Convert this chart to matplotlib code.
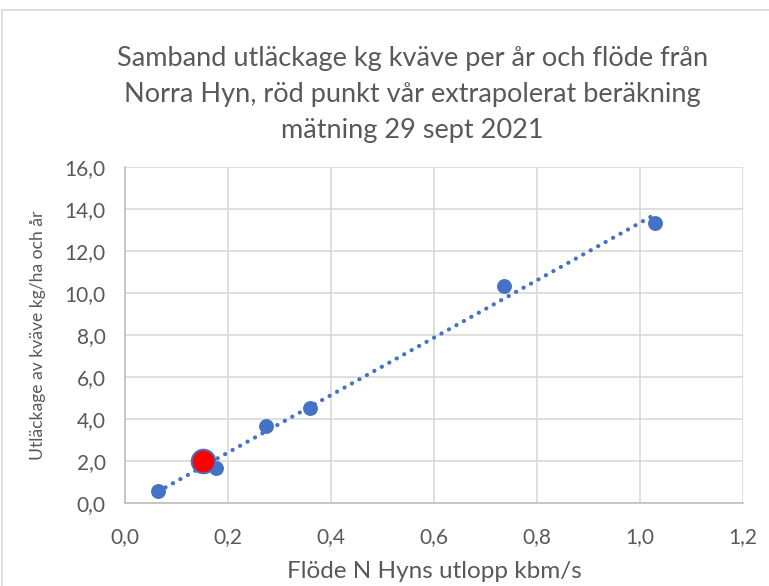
import numpy as np
import matplotlib.pyplot as plt
from matplotlib.patches import Rectangle

# data
flode = [0.064, 0.177, 0.274, 0.359, 0.736, 1.029]
utlackage = [0.57, 1.67, 3.67, 4.52, 10.33, 13.33]
rod_x = [0.151]
rod_y = [2.0]

plt.rcParams['font.family'] = ['Lato', 'DejaVu Sans']
grey = '#595959'
blue = '#4472C4'

fig = plt.figure(figsize=(7.69, 5.86), dpi=100)
ax = fig.add_axes([0.1625, 0.1416, 0.8035, 0.5734])

# chart frame
fig.patches.append(Rectangle((2 / 769, -0.01), 1.0, 1 - 10 / 586 + 0.01, transform=fig.transFigure,
                             fill=False, edgecolor='#d9d9d9', linewidth=1.2))

# linear trend line
k, m = np.polyfit(flode, utlackage, 1)
xs = np.array([min(flode), max(flode)])
ax.plot(xs, k * xs + m, linestyle=(0, (0.05, 2.0)), color=blue, linewidth=3.0,
        dash_capstyle='round', zorder=2)

ax.scatter(flode, utlackage, s=115, color=blue, zorder=3, linewidths=0)
ax.scatter(rod_x, rod_y, s=290, color='red', edgecolors=blue, linewidths=1.4, zorder=4)

ax.set_xlim(0, 1.2)
ax.set_ylim(0, 16)
ax.set_xticks(np.arange(0, 1.21, 0.2))
ax.set_yticks(np.arange(0, 16.1, 2))
ax.set_xticklabels([f'{v:.1f}'.replace('.', ',') for v in np.arange(0, 1.21, 0.2)])
ax.set_yticklabels([f'{v:.1f}'.replace('.', ',') for v in np.arange(0, 16.1, 2)])
ax.grid(True, color='#d9d9d9', linewidth=1.2)
ax.set_axisbelow(True)
for s in ['top', 'right']:
    ax.spines[s].set_visible(False)
for s in ['left', 'bottom']:
    ax.spines[s].set_color('#bfbfbf')
    ax.spines[s].set_linewidth(1.2)
ax.tick_params(length=0, labelsize=15, colors=grey)
ax.tick_params(axis='y', pad=14)
ax.tick_params(axis='x', pad=17)

ax.set_xlabel('Flöde N Hyns utlopp kbm/s', fontsize=17.5, color=grey)
ax.xaxis.set_label_coords(0.5, -0.172)
ax.set_ylabel('Utläckage av kväve kg/ha och år', fontsize=12.6, color=grey)
ax.yaxis.set_label_coords(-0.128, 0.5)

fig.text(0.536, 0.922, 'Samband utläckage kg kväve per år och flöde från\n'
         'Norra Hyn, röd punkt vår extrapolerat beräkning\n'
         'mätning 29 sept 2021', ha='center', va='top', fontsize=19.5,
         color=grey, linespacing=1.55)

fig.savefig('out.png', dpi=100)
